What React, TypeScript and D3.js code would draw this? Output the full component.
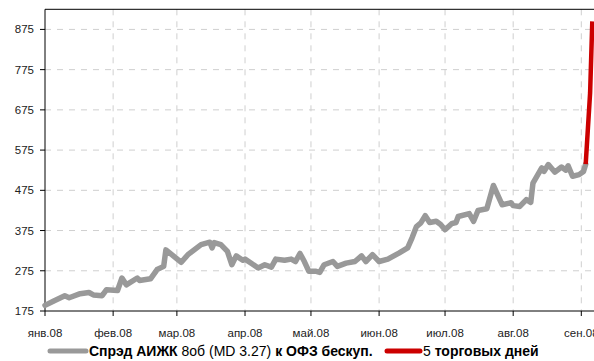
import React from "react";
import * as d3 from "d3";

const spreadDates = [
  "2008-01-01","2008-01-05","2008-01-10","2008-01-12","2008-01-17","2008-01-21","2008-01-23","2008-01-27","2008-01-29",
  "2008-02-03","2008-02-05","2008-02-07","2008-02-12","2008-02-13","2008-02-18","2008-02-21","2008-02-24","2008-02-25",
  "2008-03-03","2008-03-06","2008-03-12","2008-03-16","2008-03-17","2008-03-18","2008-03-21","2008-03-24","2008-03-26","2008-03-28","2008-03-31",
  "2008-04-01","2008-04-04","2008-04-07","2008-04-10","2008-04-13","2008-04-15","2008-04-19","2008-04-22","2008-04-24","2008-04-26","2008-04-28","2008-04-30",
  "2008-05-03","2008-05-05","2008-05-07","2008-05-11","2008-05-13","2008-05-17","2008-05-21","2008-05-24","2008-05-26","2008-05-29",
  "2008-06-01","2008-06-05","2008-06-10","2008-06-14","2008-06-16","2008-06-18","2008-06-20","2008-06-22","2008-06-24","2008-06-27","2008-06-29",
  "2008-07-01","2008-07-04","2008-07-06","2008-07-07","2008-07-12","2008-07-14","2008-07-16","2008-07-20","2008-07-23","2008-07-27","2008-07-31",
  "2008-08-01","2008-08-04","2008-08-07","2008-08-09","2008-08-10","2008-08-14","2008-08-15","2008-08-17","2008-08-20","2008-08-23","2008-08-25","2008-08-26","2008-08-28","2008-08-31",
  "2008-09-02","2008-09-03",
];
const spreadValues = [
  189,200,213,208,218,221,215,213,228,
  226,257,240,257,251,255,278,286,327,
  296,315,340,346,332,345,340,323,290,312,301,
  304,293,282,290,284,304,301,304,298,318,298,274,
  274,271,290,298,286,294,298,312,298,315,
  298,304,319,332,357,385,394,412,395,398,390,
  377,392,395,410,417,398,425,429,487,439,444,
  437,435,452,445,493,531,522,539,520,533,525,536,510,514,
  522,540,
];

const lastDaysDates = ["2008-09-03", "2008-09-05", "2008-09-06"];
const lastDaysValues = [540, 717, 895];

const yTicks = [175, 275, 375, 475, 575, 675, 775, 875];
const monthTicks = ["2008-01-01","2008-02-01","2008-03-01","2008-04-01","2008-05-01","2008-06-01","2008-07-01","2008-08-01","2008-09-01"];
const monthLabels = ["янв.08","фев.08","мар.08","апр.08","май.08","июн.08","июл.08","авг.08","сен.08"];

const W = 594;
const H = 361;
const parse = d3.utcParse("%Y-%m-%d");

export default function App() {
  const x = d3
    .scaleUtc()
    .domain([parse("2008-01-01")!, parse("2008-09-10")!])
    .range([45, 45 + 253 * 2.198]);
  const y = d3.scaleLinear().domain([175, 925]).range([311, 9.3]);

  const grey = spreadDates.map((d, i) => ({ d: parse(d)!, v: spreadValues[i] }));
  const red = lastDaysDates.map((d, i) => ({ d: parse(d)!, v: lastDaysValues[i] }));
  const line = d3
    .line<{ d: Date; v: number }>()
    .x((p) => x(p.d))
    .y((p) => y(p.v));

  const font = "'Liberation Sans', Arial, sans-serif";
  const top = y(925);
  const bottom = y(175);

  return (
    <div style={{ position: "fixed", left: 0, top: 0 }}>
      <svg width={W} height={H} style={{ display: "block", background: "#fff" }} fontFamily={font}>
        {/* grid */}
        {yTicks.slice(1).map((t) => (
          <line key={"gy" + t} x1={45} x2={W} y1={y(t)} y2={y(t)} stroke="#cfcfcf" strokeWidth={1} strokeDasharray="6,6" />
        ))}
        {monthTicks.slice(1).map((m) => (
          <line key={"gx" + m} x1={x(parse(m)!)} x2={x(parse(m)!)} y1={top} y2={bottom} stroke="#cfcfcf" strokeWidth={1} strokeDasharray="6,6" />
        ))}
        {/* frame */}
        <line x1={45} x2={W} y1={top} y2={top} stroke="#000" strokeWidth={1} />
        <line x1={45} x2={W} y1={bottom} y2={bottom} stroke="#000" strokeWidth={1} />
        <line x1={45} x2={45} y1={top} y2={bottom} stroke="#000" strokeWidth={1} />
        {/* y axis */}
        {yTicks.map((t) => (
          <g key={"yt" + t}>
            <line x1={40} x2={45} y1={y(t)} y2={y(t)} stroke="#000" />
            <text x={34} y={y(t)} dy="0.35em" textAnchor="end" fontSize={11.5} fill="#222">
              {t}
            </text>
          </g>
        ))}
        {/* x axis */}
        {monthTicks.map((m, i) => (
          <g key={"xt" + m}>
            <line x1={x(parse(m)!)} x2={x(parse(m)!)} y1={bottom} y2={bottom + 5} stroke="#000" />
            <text x={x(parse(m)!)} y={337} textAnchor="middle" fontSize={11.5} fill="#222">
              {monthLabels[i]}
            </text>
          </g>
        ))}
        {/* series */}
        <path d={line(grey) || ""} fill="none" stroke="#999999" strokeWidth={5.5} strokeLinejoin="round" strokeLinecap="round" />
        <path d={line(red) || ""} fill="none" stroke="#cc0000" strokeWidth={4.5} strokeLinejoin="round" />
        {/* legend */}
        <line x1={50} x2={86} y1={351} y2={351} stroke="#999999" strokeWidth={5} strokeLinecap="round" />
        <text x={89} y={356} fontSize={14} fill="#000">
          <tspan fontWeight="bold">Спрэд АИЖК </tspan>
          <tspan>8об (MD 3.27) </tspan>
          <tspan fontWeight="bold">к ОФЗ бескуп.</tspan>
        </text>
        <line x1={387} x2={420} y1={351} y2={351} stroke="#cc0000" strokeWidth={5} strokeLinecap="round" />
        <text x={423} y={356} fontSize={14} fill="#000">
          <tspan>5 </tspan>
          <tspan fontWeight="bold">торговых дней</tspan>
        </text>
      </svg>
    </div>
  );
}
